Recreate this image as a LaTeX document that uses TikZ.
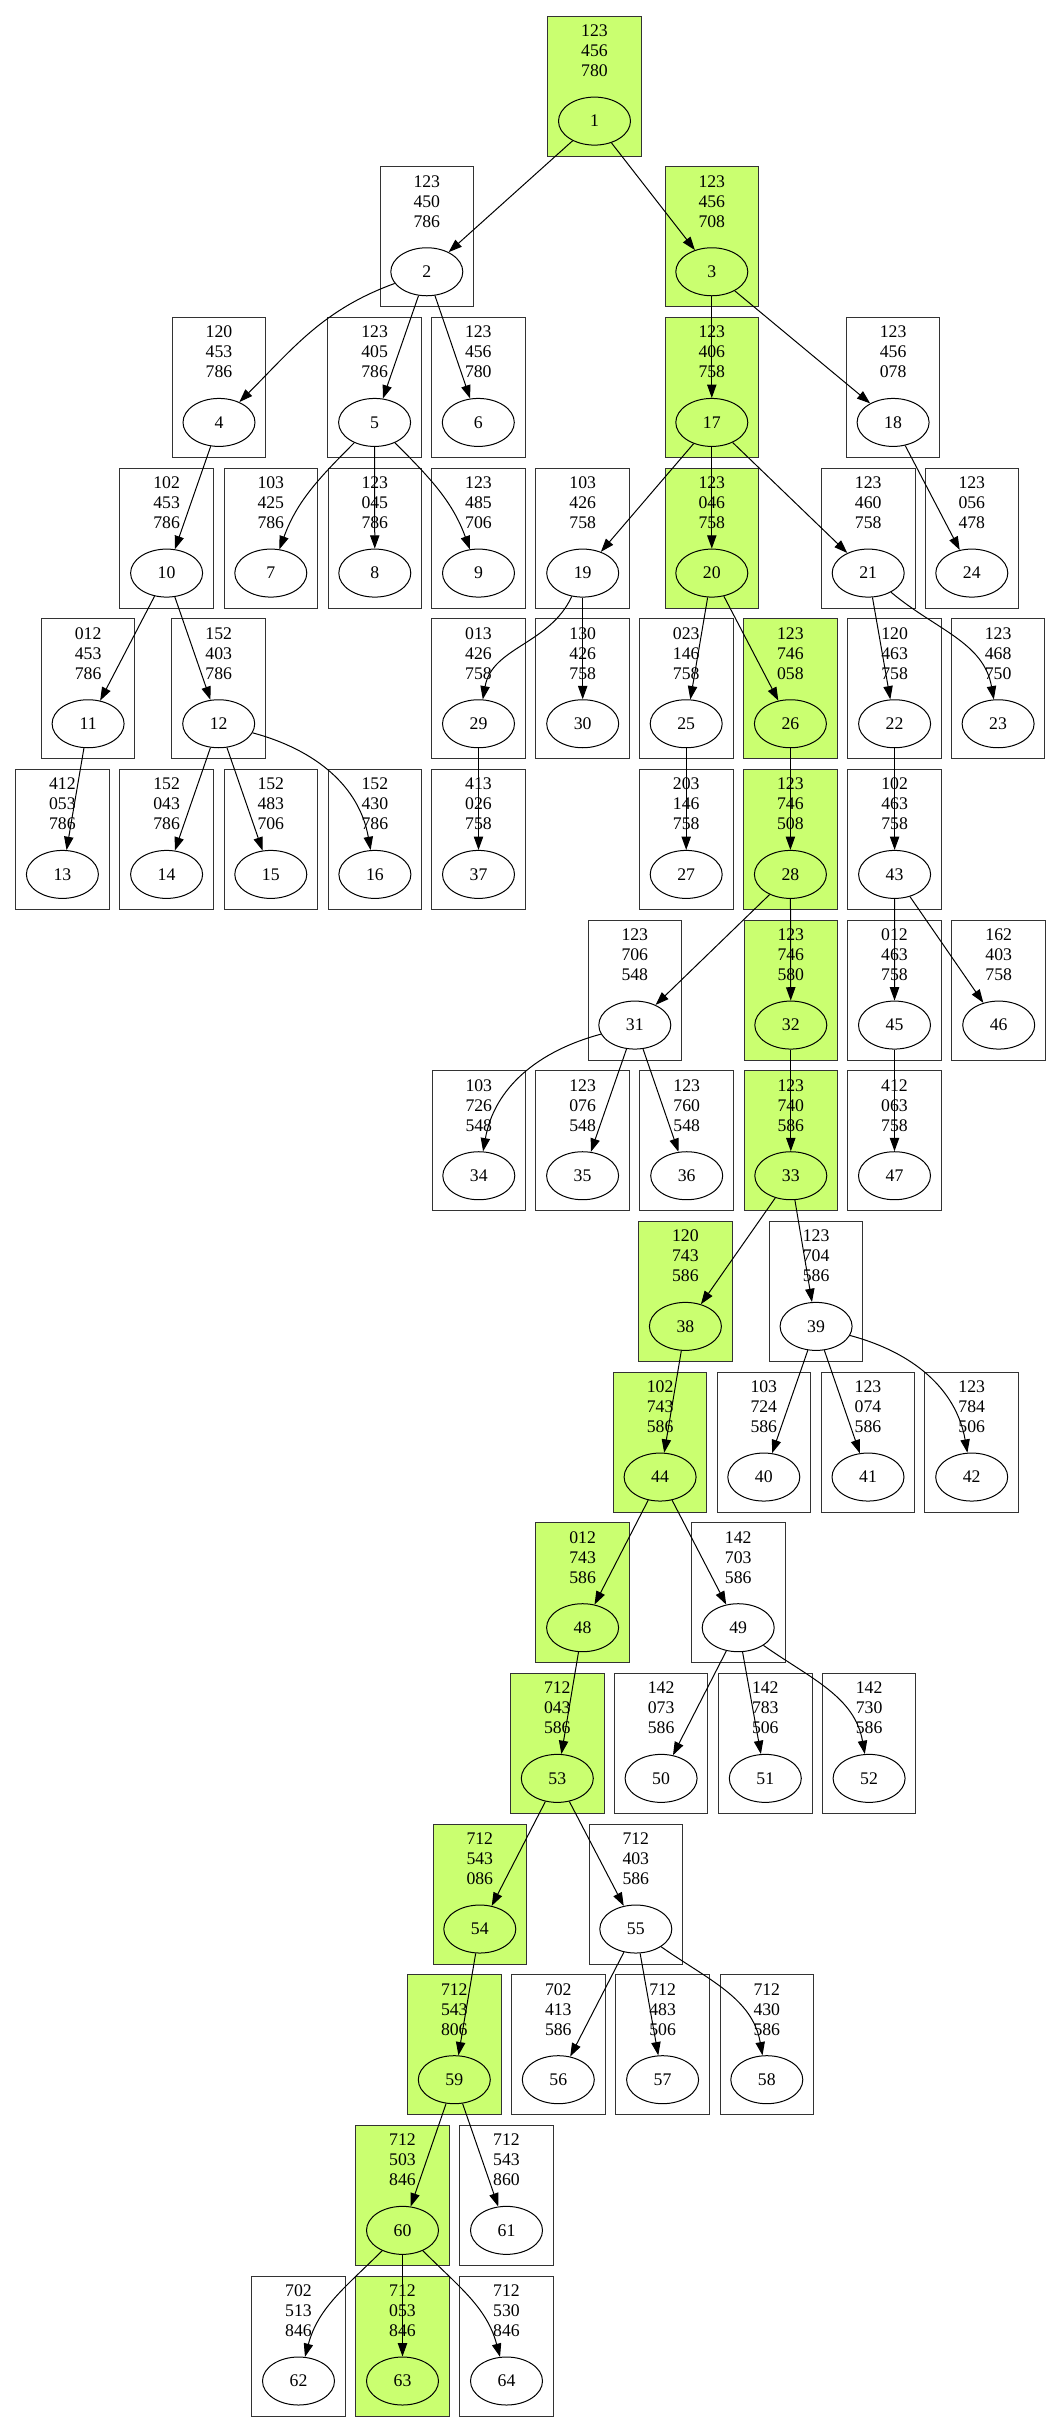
\documentclass[tikz,border=0pt]{standalone}
\usepackage{fontspec}
\setmainfont{Liberation Serif}
\usepackage{tikz}
\usetikzlibrary{shapes.geometric,arrows.meta,positioning}
\definecolor{pathgreen}{HTML}{CAFF70}

\begin{document}
\begin{tikzpicture}[x=0.75pt,y=-0.75pt,
    font=\fontsize{13.3}{15}\selectfont,
    board/.style={draw=black!80,line width=0.75pt,minimum width=70.2pt,minimum height=105pt,inner sep=0pt,anchor=north},
    offpath/.style={},
    onpath/.style={fill=pathgreen},
    tiles/.style={align=center,inner sep=0pt},
    idx/.style={draw,ellipse,line width=0.75pt,minimum width=54pt,minimum height=36pt,inner sep=0pt},
    move/.style={draw,line width=0.75pt,-{Triangle[length=10pt,width=7pt]}}]
    \useasboundingbox (0,0) rectangle (1061,2432);
    \foreach \id/\cx/\row/\lines/\kind in {
        1/594.5/1/{123\\456\\780}/onpath,
        2/426.8/2/{123\\450\\786}/offpath, 3/711.8/2/{123\\456\\708}/onpath,
        4/219/3/{120\\453\\786}/offpath, 5/374.6/3/{123\\405\\786}/offpath, 6/478.3/3/{123\\456\\780}/offpath,
        17/711.8/3/{123\\406\\758}/onpath, 18/893.1/3/{123\\456\\078}/offpath,
        10/166.6/4/{102\\453\\786}/offpath, 7/270.8/4/{103\\425\\786}/offpath, 8/374.8/4/{123\\045\\786}/offpath,
        9/478.5/4/{123\\485\\706}/offpath, 19/582.7/4/{103\\426\\758}/offpath, 20/711.8/4/{123\\046\\758}/onpath,
        21/868.2/4/{123\\460\\758}/offpath, 24/971.8/4/{123\\056\\478}/offpath,
        11/88.1/5/{012\\453\\786}/offpath, 12/218.7/5/{152\\403\\786}/offpath, 29/478.5/5/{013\\426\\758}/offpath,
        30/582.7/5/{130\\426\\758}/offpath, 25/686.2/5/{023\\146\\758}/offpath, 26/790.4/5/{123\\746\\058}/onpath,
        22/894.6/5/{120\\463\\758}/offpath, 23/998.1/5/{123\\468\\750}/offpath,
        13/62.4/6/{412\\053\\786}/offpath, 14/166.6/6/{152\\043\\786}/offpath, 15/270.8/6/{152\\483\\706}/offpath,
        16/374.9/6/{152\\430\\786}/offpath, 37/478.5/6/{413\\026\\758}/offpath, 27/686.2/6/{203\\146\\758}/offpath,
        28/790.4/6/{123\\746\\508}/onpath, 43/894.6/6/{102\\463\\758}/offpath,
        31/634.8/7/{123\\706\\548}/offpath, 32/790.8/7/{123\\746\\580}/onpath,
        45/894.5/7/{012\\463\\758}/offpath, 46/998.7/7/{162\\403\\758}/offpath,
        34/478.8/8/{103\\726\\548}/offpath, 35/582.6/8/{123\\076\\548}/offpath, 36/686.7/8/{123\\760\\548}/offpath,
        33/790.8/8/{123\\740\\586}/onpath, 47/894.5/8/{412\\063\\758}/offpath,
        38/685.4/9/{120\\743\\586}/onpath, 39/816.1/9/{123\\704\\586}/offpath,
        44/660.1/10/{102\\743\\586}/onpath, 40/763.8/10/{103\\724\\586}/offpath,
        41/868/10/{123\\074\\586}/offpath, 42/971.7/10/{123\\784\\506}/offpath,
        48/582.6/11/{012\\743\\586}/onpath, 49/738.2/11/{142\\703\\586}/offpath,
        53/557.3/12/{712\\043\\586}/onpath, 50/661.1/12/{142\\073\\586}/offpath,
        51/765.3/12/{142\\783\\506}/offpath, 52/869.1/12/{142\\730\\586}/offpath,
        54/479.8/13/{712\\543\\086}/onpath, 55/635.8/13/{712\\403\\586}/offpath,
        59/454.3/14/{712\\543\\806}/onpath, 56/558.3/14/{702\\413\\586}/offpath,
        57/662.6/14/{712\\483\\506}/offpath, 58/766.8/14/{712\\430\\586}/offpath,
        60/402.5/15/{712\\503\\846}/onpath, 61/506.5/15/{712\\543\\860}/offpath,
        62/298.5/16/{702\\513\\846}/offpath, 63/402.5/16/{712\\053\\846}/onpath, 64/506.5/16/{712\\530\\846}/offpath} {
        \pgfmathsetmacro\rowtop{15.7+(\row-1)*150.66}
        \node[board,\kind] (b\id) at (\cx,\rowtop) {};
        \node[tiles] (t\id) at (\cx,\rowtop+35) {\lines};
        \node[idx] (s\id) at (\cx,\rowtop+105.4) {\id};
    }
    \foreach \a/\b in {1/2,1/3,2/5,2/6,3/17,3/18,4/10,5/8,17/19,17/20,17/21,18/24,
        10/11,10/12,19/30,20/25,20/26,21/22,11/13,12/14,12/15,29/37,25/27,26/28,22/43,
        28/31,28/32,43/45,43/46,31/35,31/36,32/33,45/47,33/38,33/39,38/44,39/40,39/41,
        44/48,44/49,48/53,49/50,49/51,53/54,53/55,54/59,55/56,55/57,59/60,59/61,60/63}
        \draw[move] (s\a) -- (s\b);
    \foreach \a/\b/\o/\i in {2/4/200/45,5/7/225/70,5/9/-45/110,19/29/245/80,21/23/-40/100,
        12/16/-15/100,31/34/195/80,39/42/-15/100,49/52/-35/100,55/58/-35/100,60/62/225/75,60/64/-45/105}
        \draw[move] (s\a) to[out=\o,in=\i] (s\b);
\end{tikzpicture}
\end{document}
